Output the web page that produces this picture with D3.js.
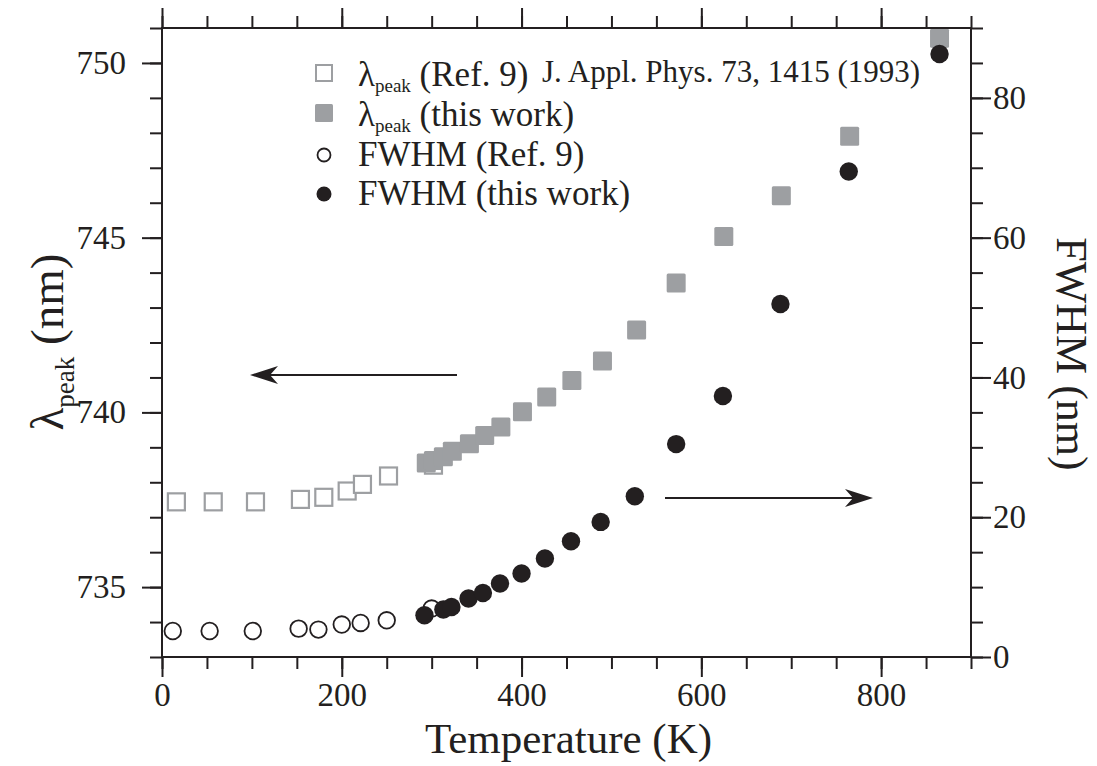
<!DOCTYPE html>
<html>
<head>
<meta charset="utf-8">
<script src="https://cdn.jsdelivr.net/npm/d3@7"></script>
<style>
  body { margin: 0; background: #fff; }
  svg { display: block; }
  text { font-family: "Liberation Serif", "DejaVu Serif", serif; fill: #231f20; }
</style>
</head>
<body>
<svg id="chart" width="1097" height="766"></svg>
<script>
// --- data ---
// Ref. 9 (J. Appl. Phys. 73, 1415 (1993))
const refLambdaT = [16, 57, 104, 154, 180, 206, 223, 252, 302];
const refLambda  = [737.44, 737.44, 737.44, 737.51, 737.57, 737.75, 737.94, 738.18, 738.49];
const refFwhmT   = [12, 53, 101, 152, 174, 200, 221, 250, 300];
const refFwhm    = [3.72, 3.72, 3.72, 4.06, 3.92, 4.64, 4.87, 5.25, 6.93];

// this work
const ownLambdaT = [294, 302, 313, 323, 342, 359, 377, 401, 428, 456, 490, 528, 572, 625, 689, 765, 865];
const ownLambda  = [738.55, 738.62, 738.73, 738.89, 739.10, 739.34, 739.58, 740.02, 740.44, 740.91,
                    741.47, 742.36, 743.70, 745.03, 746.20, 747.90, 750.71];
const ownFwhmT   = [292, 313, 322, 341, 357, 376, 400, 426, 455, 488, 526, 572, 624, 688, 764, 865];
const ownFwhm    = [5.97, 6.79, 7.16, 8.36, 9.16, 10.51, 11.94, 14.09, 16.57, 19.33, 23.01,
                    30.46, 37.34, 50.51, 69.46, 86.28];

// axes
const xMajor = [0, 200, 400, 600, 800];
const yLeftMajor = [735, 740, 745, 750];
const yRightMajor = [0, 20, 40, 60, 80];

const ink = "#231f20";
const grey = "#9d9fa2";

const svg = d3.select("#chart");
const L = 162, R = 971, T = 28, B = 657;

const x = d3.scaleLinear().domain([0, 900]).range([L, R]);
const yL = d3.scaleLinear().domain([733, 751]).range([B, T]);
const yR = d3.scaleLinear().domain([0, 90]).range([B, T]);

// --- marks ---
const marks = svg.append("g");

const sq = 19, sqOpen = 17;

marks.selectAll("rect.ref")
  .data(d3.zip(refLambdaT, refLambda))
  .join("rect")
  .attr("x", d => x(d[0]) - sqOpen / 2)
  .attr("y", d => yL(d[1]) - sqOpen / 2)
  .attr("width", sqOpen).attr("height", sqOpen)
  .attr("fill", "#fff").attr("stroke", grey).attr("stroke-width", 2.2);

marks.selectAll("circle.ref")
  .data(d3.zip(refFwhmT, refFwhm))
  .join("circle")
  .attr("cx", d => x(d[0]))
  .attr("cy", d => yR(d[1]))
  .attr("r", 8.3)
  .attr("fill", "#fff").attr("stroke", ink).attr("stroke-width", 1.8);

marks.selectAll("rect.own")
  .data(d3.zip(ownLambdaT, ownLambda))
  .join("rect")
  .attr("x", d => x(d[0]) - sq / 2)
  .attr("y", d => yL(d[1]) - sq / 2)
  .attr("width", sq).attr("height", sq)
  .attr("rx", 1.5)
  .attr("fill", grey);

marks.selectAll("circle.own")
  .data(d3.zip(ownFwhmT, ownFwhm))
  .join("circle")
  .attr("cx", d => x(d[0]))
  .attr("cy", d => yR(d[1]))
  .attr("r", 9.2)
  .attr("fill", ink);

// --- axes ---
function styleAxis(g) {
  g.select(".domain").remove();
  g.selectAll(".tick line").attr("stroke", ink).attr("stroke-width", 2);
  g.selectAll(".tick text")
    .attr("fill", ink)
    .style("font-family", '"Liberation Serif", serif')
    .style("font-size", "33px");
}

const minorX = d3.range(0, 901, 50);
const minorL = d3.range(733, 752, 1);
const minorR = d3.range(0, 91, 5);

svg.append("g").attr("transform", `translate(0,${B})`)
  .call(d3.axisBottom(x).tickValues(minorX).tickSize(12).tickFormat(""))
  .call(styleAxis);
svg.append("g").attr("transform", `translate(0,${B})`)
  .call(d3.axisBottom(x).tickValues(xMajor).tickSize(20).tickPadding(6).tickFormat(d3.format("d")))
  .call(styleAxis);

svg.append("g").attr("transform", `translate(0,${T})`)
  .call(d3.axisTop(x).tickValues(minorX).tickSize(12).tickFormat(""))
  .call(styleAxis);
svg.append("g").attr("transform", `translate(0,${T})`)
  .call(d3.axisTop(x).tickValues(xMajor).tickSize(20).tickFormat(""))
  .call(styleAxis);

svg.append("g").attr("transform", `translate(${L},0)`)
  .call(d3.axisLeft(yL).tickValues(minorL).tickSize(12).tickFormat(""))
  .call(styleAxis);
svg.append("g").attr("transform", `translate(${L},0)`)
  .call(d3.axisLeft(yL).tickValues(yLeftMajor).tickSize(20).tickPadding(16).tickFormat(d3.format("d")))
  .call(styleAxis);

svg.append("g").attr("transform", `translate(${R},0)`)
  .call(d3.axisRight(yR).tickValues(minorR).tickSize(12).tickFormat(""))
  .call(styleAxis);
svg.append("g").attr("transform", `translate(${R},0)`)
  .call(d3.axisRight(yR).tickValues(yRightMajor).tickSize(20).tickPadding(2).tickFormat(d3.format("d")))
  .call(styleAxis);

// frame
svg.append("rect")
  .attr("x", L).attr("y", T).attr("width", R - L).attr("height", B - T)
  .attr("fill", "none").attr("stroke", ink).attr("stroke-width", 2);

// --- axis titles ---
svg.append("text")
  .attr("x", (L + R) / 2 + 2).attr("y", 753)
  .attr("text-anchor", "middle")
  .style("font-size", "43px")
  .text("Temperature (K)");

const lt = svg.append("text")
  .attr("transform", "translate(63,342) rotate(-90)")
  .attr("text-anchor", "middle")
  .style("font-size", "47px");
lt.append("tspan").text("λ");
lt.append("tspan").attr("dy", 11).style("font-size", "27px").text("peak");
lt.append("tspan").attr("dy", -11).text(" (nm)");

svg.append("text")
  .attr("transform", "translate(1057,354) rotate(90)")
  .attr("text-anchor", "middle")
  .style("font-size", "44px")
  .text("FWHM (nm)");

// --- arrows ---
const arrows = [
  { x1: 457, x2: 250, y: 375 },
  { x1: 665, x2: 873, y: 498 }
];
arrows.forEach(a => {
  const dir = Math.sign(a.x2 - a.x1);
  svg.append("line")
    .attr("x1", a.x1).attr("x2", a.x2 - dir * 20)
    .attr("y1", a.y).attr("y2", a.y)
    .attr("stroke", ink).attr("stroke-width", 2);
  svg.append("path")
    .attr("d", `M${a.x2},${a.y} L${a.x2 - dir * 28},${a.y - 9} L${a.x2 - dir * 20},${a.y} L${a.x2 - dir * 28},${a.y + 9} Z`)
    .attr("fill", ink);
});

// --- legend ---
const legendLabels = ["(Ref. 9)", "(this work)", "FWHM (Ref. 9)", "FWHM (this work)"];
const legendRows = [86, 126, 166, 205];
const lx = 324, tx = 358;

const leg = svg.append("g");
leg.append("rect").attr("x", lx - 8).attr("y", legendRows[0] - 21).attr("width", 16).attr("height", 16)
  .attr("fill", "#fff").attr("stroke", grey).attr("stroke-width", 2);
leg.append("rect").attr("x", lx - 9).attr("y", legendRows[1] - 22).attr("width", 18).attr("height", 18)
  .attr("rx", 1.5).attr("fill", grey);
leg.append("circle").attr("cx", lx).attr("cy", legendRows[2] - 11).attr("r", 6.5)
  .attr("fill", "#fff").attr("stroke", ink).attr("stroke-width", 1.8);
leg.append("circle").attr("cx", lx).attr("cy", legendRows[3] - 11).attr("r", 7.5)
  .attr("fill", ink);

legendLabels.forEach((lab, i) => {
  const t = leg.append("text").attr("x", tx).attr("y", legendRows[i]).style("font-size", "35px");
  if (i < 2) {
    t.append("tspan").text("λ");
    t.append("tspan").attr("dy", 6).style("font-size", "19px").text("peak");
    t.append("tspan").attr("dy", -6).text(" " + lab);
  } else {
    t.text(lab);
  }
});

leg.append("text")
  .attr("x", 542).attr("y", 82)
  .style("font-size", "31px")
  .text("J. Appl. Phys. 73, 1415 (1993)");
</script>
</body>
</html>
